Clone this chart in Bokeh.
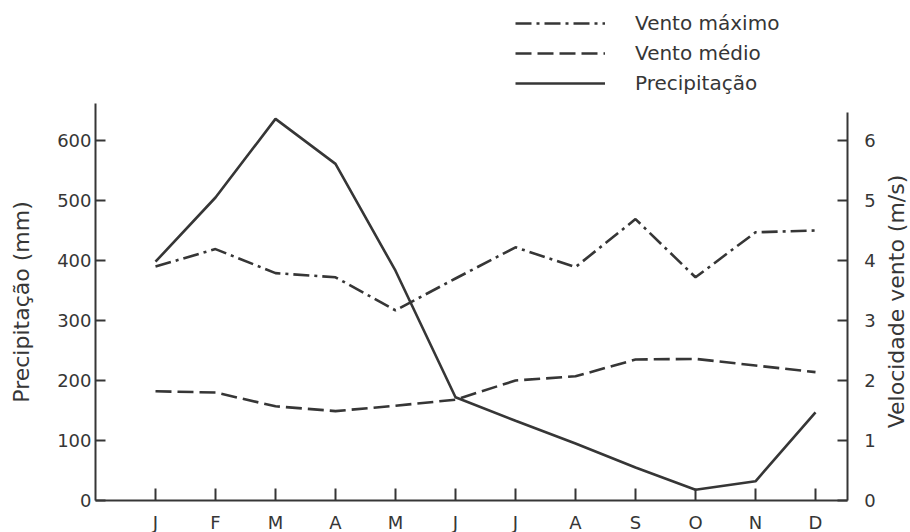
import math
from bokeh.plotting import figure
from bokeh.models import Range1d, LinearAxis, FixedTicker, Legend, LegendItem, Label
from bokeh.embed import file_html
from bokeh.resources import INLINE

# ---- data ----
months = ["J", "F", "M", "A", "M", "J", "J", "A", "S", "O", "N", "D"]
month_pos = list(range(1, 13))
precipitacao = [398, 505, 636, 561, 383, 172, 133, 95, 55, 18, 32, 147]
vento_maximo = [3.90, 4.19, 3.79, 3.72, 3.17, 3.70, 4.22, 3.89, 4.69, 3.72, 4.47, 4.50]
vento_medio = [1.82, 1.80, 1.57, 1.49, 1.58, 1.68, 2.00, 2.07, 2.35, 2.36, 2.25, 2.14]
left_ticks = [0, 100, 200, 300, 400, 500, 600]
right_ticks = [0, 1, 2, 3, 4, 5, 6]

INK = "#363636"
FONT = "DejaVu Sans"

W, H = 910, 532
# the plotting frame covers the whole canvas; axes sit at fixed data positions
p = figure(width=W, height=H, title=None,
           x_range=Range1d(-1.5833, 13.5833), y_range=Range1d(-53.33, 833.33),
           x_axis_location=None, y_axis_location=None,
           output_backend="svg", toolbar_location=None,
           min_border=0)
p.grid.visible = False
p.outline_line_color = None
p.background_fill_color = "white"
p.border_fill_color = "white"
p.extra_y_ranges = {"wind": Range1d(-0.5333, 8.3333)}

xa = LinearAxis(fixed_location=0, ticker=FixedTicker(ticks=month_pos),
                bounds=(0, 12.53),
                major_label_overrides={m: lab for m, lab in zip(month_pos, months)})
ya = LinearAxis(fixed_location=0, ticker=FixedTicker(ticks=left_ticks),
                bounds=(0, 662), axis_label="Precipitação (mm)")
ax_r = LinearAxis(fixed_location=12.53, y_range_name="wind",
                  ticker=FixedTicker(ticks=right_ticks), bounds=(0, 6.47))
p.add_layout(xa, "below")
p.add_layout(ya, "left")
p.add_layout(ax_r, "right")

for ax in (xa, ya, ax_r):
    ax.axis_line_width = 2
    ax.axis_line_color = INK
    ax.major_tick_line_width = 2
    ax.major_tick_line_color = INK
    ax.major_tick_in = 10
    ax.major_tick_out = 0
    ax.minor_tick_in = 0
    ax.minor_tick_out = 0
    ax.major_label_text_font = FONT
    ax.major_label_text_font_size = "18px"
    ax.major_label_text_color = INK
    ax.axis_label_text_font = FONT
    ax.axis_label_text_font_size = "22px"
    ax.axis_label_text_font_style = "normal"
    ax.axis_label_text_color = INK

xa.major_tick_in = 12
xa.major_label_standoff = 11

ya.major_label_standoff = 4
ya.axis_label_standoff = 20

ax_r.major_label_standoff = 17

r_max = p.line(month_pos, vento_maximo, y_range_name="wind", line_width=2.6,
               line_color=INK, line_dash="16 5 3 5")
r_med = p.line(month_pos, vento_medio, y_range_name="wind", line_width=2.6,
               line_color=INK, line_dash="16 6")
r_pre = p.line(month_pos, precipitacao, line_width=2.6, line_color=INK)

# right axis title, reading bottom-to-top as in the reference
p.add_layout(Label(x=896, y=231, x_units="screen", y_units="screen",
                   text="Velocidade vento (m/s)", angle=math.pi / 2,
                   text_align="center", text_baseline="middle",
                   text_font=FONT, text_font_size="22px", text_color=INK))

legend = Legend(items=[LegendItem(label="Vento máximo", renderers=[r_max]),
                       LegendItem(label="Vento médio", renderers=[r_med]),
                       LegendItem(label="Precipitação", renderers=[r_pre])],
                location=(515, 437), glyph_width=90, glyph_height=24,
                label_height=24, spacing=6, padding=0, margin=0,
                label_standoff=30, label_text_font=FONT,
                label_text_font_size="20px", label_text_color=INK,
                border_line_color=None, background_fill_alpha=0)
p.add_layout(legend)

open("out.html", "w").write(file_html(p, INLINE))
